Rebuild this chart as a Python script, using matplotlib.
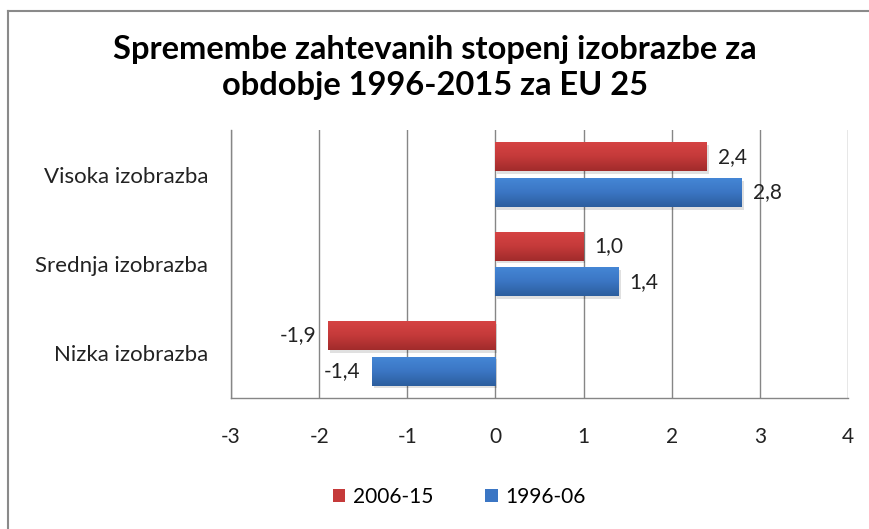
import numpy as np
import matplotlib
matplotlib.use("Agg")
import matplotlib.pyplot as plt
from matplotlib.lines import Line2D
from matplotlib.patches import Patch
from matplotlib.colors import LinearSegmentedColormap

categories = ["Nizka izobrazba", "Srednja izobrazba", "Visoka izobrazba"]
series_names = ["2006-15", "1996-06"]
vals_2006_15 = [-1.9, 1.0, 2.4]
vals_1996_06 = [-1.4, 1.4, 2.8]
x_ticks = [-3, -2, -1, 0, 1, 2, 3, 4]

plt.rcParams['font.family'] = ['Lato', 'DejaVu Sans']

fig = plt.figure(figsize=(8.69, 5.29), dpi=100)
ax = fig.add_axes([231/869, 1-398/529, (848-231)/869, (398-130)/529])

h = 0.326
off = 0.2
red_cmap = LinearSegmentedColormap.from_list("r", ["#D64444", "#C53A3A", "#A12B2B"])
blue_cmap = LinearSegmentedColormap.from_list("b", ["#4587D6", "#3B76C4", "#2C5E9E"])

y = np.arange(len(categories))
grad = np.linspace(0, 1, 64).reshape(-1, 1)

def draw(vals, yc, cmap):
    bars = ax.barh(yc, vals, height=h, color="none", edgecolor="none", zorder=3)
    for b, v in zip(bars, vals):
        x0, x1 = sorted([0, v])
        y0, y1 = b.get_y(), b.get_y() + b.get_height()
        ax.add_patch(plt.Rectangle((x0 + 0.02, y0 - 0.03), x1 - x0, y1 - y0,
                                   color="#000000", alpha=0.12, zorder=2, lw=0))
        im = ax.imshow(grad, extent=[x0, x1, y0, y1], cmap=cmap, aspect="auto",
                       origin="upper", zorder=3)
        im.set_clip_path(b)
    return bars

draw(vals_2006_15, y + off, red_cmap)
draw(vals_1996_06, y - off, blue_cmap)

for vals, yc in ((vals_2006_15, y + off), (vals_1996_06, y - off)):
    for v, yy in zip(vals, yc):
        txt = f"{v:.1f}".replace(".", ",")
        if v >= 0:
            ax.text(v + 0.12, yy, txt, va="center", ha="left", fontsize=15, color="#222222", zorder=5)
        else:
            ax.text(v - 0.13, yy, txt, va="center", ha="right", fontsize=15, color="#222222", zorder=5)

ax.set_xlim(-3, 4)
ax.set_ylim(-0.5, 2.5)
ax.set_xticks(x_ticks)
ax.set_xticklabels([str(t) for t in x_ticks], fontsize=15, color="#222222")
ax.set_yticks(y)
ax.set_yticklabels(categories, fontsize=16, color="#222222")
ax.tick_params(axis="x", length=0, pad=21)
ax.tick_params(axis="y", length=0, pad=16.5)
ax.grid(axis="x", color="#868686", lw=1, zorder=0)
ax.set_axisbelow(True)
for s in ("top", "right"):
    ax.spines[s].set_visible(False)
for s in ("left", "bottom"):
    ax.spines[s].set_color("#868686")
    ax.spines[s].set_linewidth(1)

fig.text(0.5, 1-50/529, "Spremembe zahtevanih stopenj izobrazbe za", ha="center", va="center",
         fontsize=23.5, fontweight="bold", color="#000000")
fig.text(0.5, 1-86/529, "obdobje 1996-2015 za EU 25", ha="center", va="center",
         fontsize=23.5, fontweight="bold", color="#000000")

handles = [Patch(facecolor="#C53A3A", edgecolor="none"), Patch(facecolor="#3B76C4", edgecolor="none")]
fig.legend(handles, series_names, loc="center", bbox_to_anchor=(459/869, 1-497/529), ncol=2,
           frameon=False, fontsize=15, handlelength=0.6, handleheight=0.6,
           handletextpad=0.35, columnspacing=2.5)

fig.add_artist(Line2D([8/869, 1], [1-11/529, 1-11/529], color="#8a8a8a", lw=1.5, transform=fig.transFigure))
fig.add_artist(Line2D([8/869, 8/869], [0, 1-11/529], color="#8a8a8a", lw=1.5, transform=fig.transFigure))

fig.savefig("out.png", dpi=100)
